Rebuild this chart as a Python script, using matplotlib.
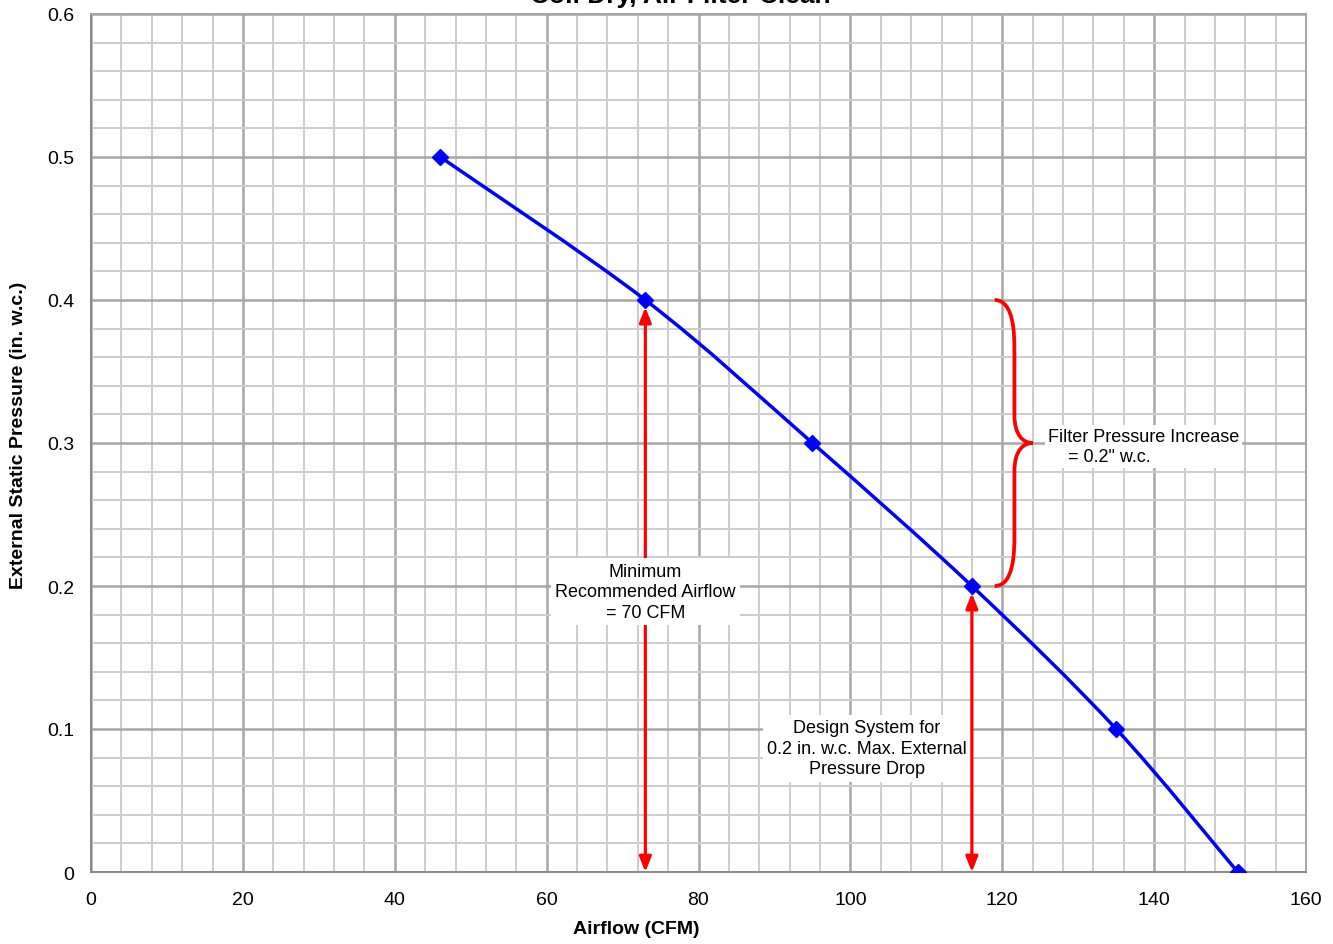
import matplotlib
matplotlib.use("Agg")
import matplotlib.pyplot as plt
from matplotlib.path import Path
from matplotlib.patches import PathPatch, FancyArrowPatch
import numpy as np

plt.rcParams['font.family'] = ['Liberation Sans', 'DejaVu Sans']

# Data
airflow = [46, 73, 95, 116, 135, 151]
pressure = [0.5, 0.4, 0.3, 0.2, 0.1, 0.0]
x_ticks = [0, 20, 40, 60, 80, 100, 120, 140, 160]
y_ticks = [0, 0.1, 0.2, 0.3, 0.4, 0.5, 0.6]
y_tick_labels = ["0", "0.1", "0.2", "0.3", "0.4", "0.5", "0.6"]
min_airflow = 73
min_airflow_p = 0.4
design_airflow = 116
design_p = 0.2
filter_top = 0.4
filter_bottom = 0.2

fig = plt.figure(figsize=(13.33, 9.45), dpi=100)
ax = fig.add_axes([91/1333, 1-873/945, (1306-91)/1333, (873-15)/945])
ax.set_xlim(0, 160)
ax.set_ylim(0, 0.6)

ax.set_xticks(x_ticks)
ax.set_xticks(np.arange(0, 161, 4), minor=True)
ax.set_yticks(y_ticks)
ax.set_yticklabels(y_tick_labels)
ax.set_yticks(np.arange(0, 0.601, 0.02), minor=True)
ax.grid(which='minor', color='#cccccc', linewidth=1.4)
ax.grid(which='major', color='#a6a6a6', linewidth=1.8)
ax.set_axisbelow(True)
ax.tick_params(which='both', length=0, labelsize=14)
ax.tick_params(axis='x', pad=14)
ax.tick_params(axis='y', pad=12)
for s in ax.spines.values():
    s.set_color('#a6a6a6')
    s.set_linewidth(1.4)
ax.spines['left'].set_color('#888888')
ax.spines['bottom'].set_color('#888888')

# Smoothed curve (Excel-like Bezier through points)
P = np.column_stack([airflow, pressure]).astype(float)
n = len(P)
verts = [P[0]]
codes = [Path.MOVETO]
for i in range(n - 1):
    p_prev = P[i - 1] if i > 0 else P[i]
    p_next2 = P[i + 2] if i + 2 < n else P[i + 1]
    c1 = P[i] + (P[i + 1] - p_prev) / 6
    c2 = P[i + 1] - (p_next2 - P[i]) / 6
    verts += [c1, c2, P[i + 1]]
    codes += [Path.CURVE4] * 3
ax.add_patch(PathPatch(Path(verts, codes), fill=False, edgecolor='#0000ff', linewidth=2.5, zorder=3))
ax.plot(airflow, pressure, linestyle='none', marker='D', markersize=8.5, color='#0000ff', zorder=4)

# Red double arrows
for xv, yv, z in [(min_airflow, min_airflow_p, 2), (design_airflow, design_p, 6)]:
    ax.add_patch(FancyArrowPatch((xv, 0.0), (xv, yv - 0.005), arrowstyle='<|-|>,head_length=9,head_width=3.6',
                                 color='#ff0000', linewidth=2.3, zorder=z, shrinkA=0, shrinkB=0))

# Brace
bx0, bx1, bx2 = 119, 121.6, 124.0
ym = (filter_top + filter_bottom) / 2
bv = [(bx0, filter_top), (bx1, filter_top), (bx1, filter_top - 0.025), (bx1, filter_top - 0.035),
      (bx1, ym + 0.02),
      (bx1, ym + 0.005), (bx2 - 1.2, ym), (bx2, ym),
      (bx2 - 1.2, ym), (bx1, ym - 0.005), (bx1, ym - 0.02),
      (bx1, filter_bottom + 0.035),
      (bx1, filter_bottom + 0.025), (bx1, filter_bottom), (bx0, filter_bottom)]
bc = [Path.MOVETO, Path.CURVE4, Path.CURVE4, Path.CURVE4,
      Path.LINETO,
      Path.CURVE4, Path.CURVE4, Path.CURVE4,
      Path.CURVE4, Path.CURVE4, Path.CURVE4,
      Path.LINETO,
      Path.CURVE4, Path.CURVE4, Path.CURVE4]
ax.add_patch(PathPatch(Path(bv, bc), fill=False, edgecolor='#ff0000', linewidth=2.7, zorder=3))

box = dict(facecolor='white', edgecolor='none', pad=3)
ax.text(73, 0.196, "Minimum\nRecommended Airflow\n= 70 CFM", ha='center', va='center', fontsize=13,
        linespacing=1.28, bbox=box, zorder=5)
ax.text(102.2, 0.0865, "Design System for\n0.2 in. w.c. Max. External\nPressure Drop", ha='center', va='center',
        fontsize=13, linespacing=1.28, bbox=box, zorder=5)
ax.text(126.0, 0.2976, "Filter Pressure Increase\n    = 0.2\" w.c.", ha='left', va='center', fontsize=13,
        linespacing=1.22, bbox=dict(facecolor='white', edgecolor='none', pad=2), zorder=5)

fig.text(636/1333, 1 - 930/945, "Airflow (CFM)", ha='center', va='center', fontsize=14, fontweight='bold')
fig.text(19/1333, 1 - 435/945, "External Static Pressure (in. w.c.)", ha='center', va='center',
         rotation=90, fontsize=14, fontweight='bold')
fig.text(680/1333, 1 - 3/945, "Coil Dry, Air Filter Clean", ha='center', va='baseline', fontsize=19, fontweight='bold')

fig.savefig("out.png", dpi=100)
